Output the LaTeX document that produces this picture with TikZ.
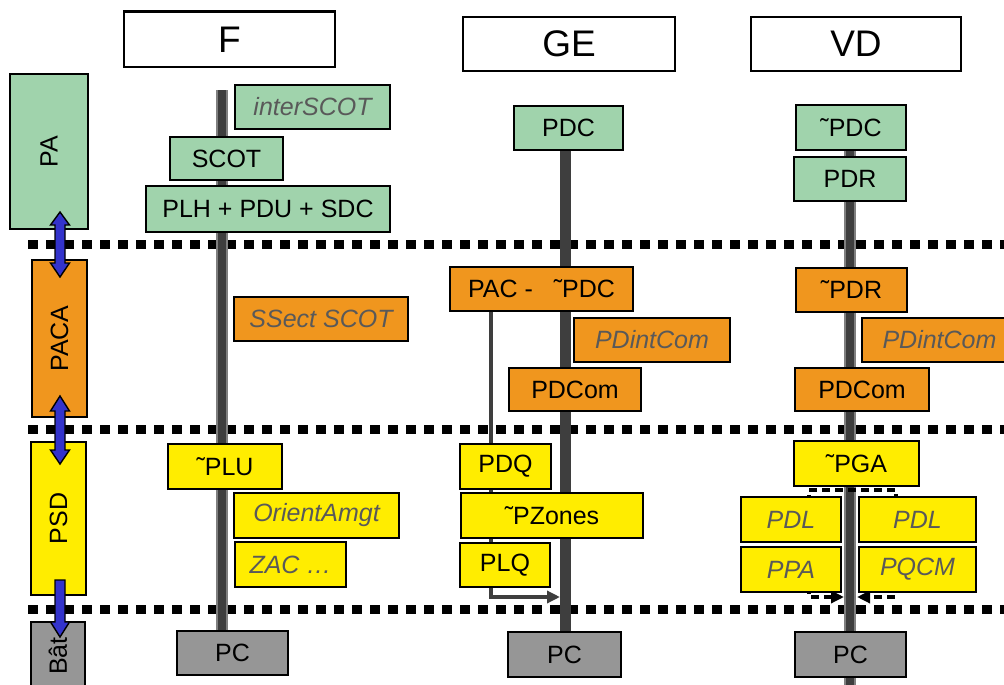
\documentclass[tikz,border=0pt]{standalone}
\usepackage{fontspec}
\setmainfont{Liberation Sans}
\usetikzlibrary{arrows.meta}
\definecolor{cgreen}{RGB}{160,211,172}
\definecolor{corange}{RGB}{240,150,30}
\definecolor{cyellow}{RGB}{255,237,0}
\definecolor{cgray}{RGB}{150,150,150}
\definecolor{cblue}{RGB}{51,51,204}
\definecolor{ctxt}{RGB}{89,89,89}
\definecolor{cstem}{RGB}{62,62,62}
\definecolor{cstemedge}{RGB}{128,128,128}
\pgfdeclarelayer{back}
\pgfdeclarelayer{mid}
\pgfsetlayers{back,mid,main}
\newcommand\mybox[7]{%
  \pgfmathsetmacro\myw{#5-#3}\pgfmathsetmacro\myh{#6-#4}%
  \pgfmathsetmacro\myx{(#3+#5)/2}\pgfmathsetmacro\myy{(#4+#6)/2}%
  \node[#1, minimum width=\myw pt, minimum height=\myh pt] (#2) at (\myx,\myy) {#7};}
\tikzset{
  box/.style={draw=black, line width=1.5pt, inner sep=0pt, font=\fontsize{25}{30}\selectfont, text=black},
  gbox/.style={box, fill=cgreen},
  obox/.style={box, fill=corange},
  ybox/.style={box, fill=cyellow},
  pbox/.style={box, fill=cgray},
  ital/.style={font=\fontsize{25}{30}\selectfont\itshape, text=ctxt},
  hbox/.style={draw=black, line width=1.4pt, fill=white, inner sep=0pt, font=\fontsize{37}{42}\selectfont},
  layerbox/.style={draw=black, line width=1.5pt, inner sep=0pt, font=\fontsize{25}{30}\selectfont, rotate=90},
  sepline/.style={line width=9pt, dash pattern=on 10pt off 8pt, black},
  stemout/.style={line width=12pt, draw=cstemedge},
  stemin/.style={line width=8pt, draw=cstem},
  stemsolid/.style={line width=11pt, draw=cstem},
  barrow/.style={draw=black, line width=1.4pt, fill=cblue},
  gearrow/.style={draw=cstem, line width=3.5pt, -{Triangle[length=13pt,width=12pt]}},
  vdarrow/.style={draw=black, line width=3.5pt, dash pattern=on 8pt off 5pt, {Triangle[length=13pt,width=12pt]}-{Triangle[length=13pt,width=12pt]}},
}
\begin{document}
\begin{tikzpicture}[x=1pt,y=-1pt]
\useasboundingbox (0,0) rectangle (1004,685);
\clip (0,0) rectangle (1004,685);

% headers
\mybox{hbox}{hF}{124}{12}{335}{67}{F}
\mybox{hbox}{hGE}{463}{17}{675}{71}{GE}
\mybox{hbox}{hVD}{751}{17}{961}{71}{VD}
\draw[line width=2.8pt] (hF.north west) -- (hF.north east);

% layer boxes
\node[layerbox, fill=cgreen, minimum width=155pt, minimum height=78pt] (pa) at (49,151.5) {PA};
\node[layerbox, fill=corange, minimum width=157pt, minimum height=55pt] (paca) at (59.5,338.5) {PACA};
\node[layerbox, fill=cyellow, minimum width=153pt, minimum height=55pt] (psd) at (58.5,518.5) {PSD};
\node[layerbox, fill=cgray, minimum width=68pt, minimum height=54pt] (bat) at (58,656) {Bât};

% F column
\mybox{gbox,ital}{interscot}{235}{85}{390}{129}{interSCOT}
\mybox{gbox}{scot}{170}{137}{283}{180}{SCOT}
\mybox{gbox}{plh}{146}{186}{390}{232}{PLH + PDU + SDC}
\mybox{obox,ital}{ssect}{234}{297}{408}{341}{SSect SCOT}
\mybox{ybox}{plu}{168}{444}{282}{489}{˜PLU}
\mybox{ybox,ital}{orient}{234}{493}{399}{538}{OrientAmgt}
\mybox{ybox,ital}{zac}{235}{542}{346}{587}{ZAC …}
\mybox{pbox}{fpc}{177}{631}{288}{675}{PC}

% GE column
\mybox{gbox}{gpdc}{514}{106}{623}{150}{PDC}
\mybox{obox}{pac}{450}{267}{633}{311}{PAC -\hspace{21pt}˜PDC}
\mybox{obox,ital}{gint}{574}{318}{730}{362}{PDintCom}
\mybox{obox}{gcom}{509}{368}{641}{411}{PDCom}
\mybox{ybox}{pdq}{460}{444}{551}{489}{PDQ}
\mybox{ybox}{pzones}{461}{493}{643}{538}{˜PZones}
\mybox{ybox}{plq}{460}{543}{550}{587}{PLQ}
\mybox{pbox}{gpc}{508}{632}{621}{677}{PC}

% VD column
\mybox{gbox}{vpdc}{796}{105}{906}{150}{˜PDC}
\mybox{gbox}{vpdr}{794}{157}{906}{201}{PDR}
\mybox{obox}{vtpdr}{796}{268}{907}{312}{˜PDR}
\mybox{obox,ital}{vint}{862}{318}{1017}{362}{PDintCom}
\mybox{obox}{vcom}{795}{368}{929}{411}{PDCom}
\mybox{ybox}{pga}{794}{441}{919}{486}{˜PGA}
\mybox{ybox,ital}{pdla}{741}{497}{841}{542}{PDL}
\mybox{ybox,ital}{pdlb}{859}{497}{976}{542}{PDL}
\mybox{ybox,ital}{ppa}{741}{547}{841}{592}{PPA}
\mybox{ybox,ital}{pqcm}{859}{547}{976}{592}{PQCM}
\mybox{pbox}{vpc}{795}{632}{906}{677}{PC}

% separators
\coordinate (s1a) at (28,244); \coordinate (s1b) at (1004,244);
\coordinate (s2a) at (28,429); \coordinate (s2b) at (1004,429);
\coordinate (s3a) at (28,609); \coordinate (s3b) at (1004,609);
\begin{pgfonlayer}{back}
  \draw[sepline] (s1a) -- (s1b);
  \draw[sepline] (s2a) -- (s2b);
  \draw[sepline] (s3a) -- (s3b);
\end{pgfonlayer}

% stems and connectors
\coordinate (ftop) at (222,90);
\coordinate (gtop) at (565,128);
\coordinate (vtop) at (850,128);
\coordinate (vbot) at (850,690);
\coordinate (gcorner) at (491,597);
\coordinate (gtip) at (560,597);
\coordinate (dl1) at (844,597);
\coordinate (dl2) at (809,597);
\coordinate (dl3) at (809,490);
\coordinate (dr3) at (896,490);
\coordinate (dr2) at (896,597);
\coordinate (dr1) at (857,597);
\begin{pgfonlayer}{mid}
  \draw[stemout] (ftop) -- (ftop |- fpc.north);
  \draw[stemin] (ftop) -- (ftop |- fpc.north);
  \draw[stemsolid] (gtop) -- (gtop |- gpc.north);
  \draw[stemout] (vtop) -- (vbot);
  \draw[stemin] (vtop) -- (vbot);
  \draw[gearrow] (pac.south -| gcorner) -- (gcorner) -- (gtip);
  \draw[vdarrow] (dl1) -- (dl2) -- (dl3) -- (dr3) -- (dr2) -- (dr1);
\end{pgfonlayer}

% blue arrows between layers
\coordinate (a1) at (60,212);
\coordinate (a2) at (60,396);
\coordinate (a3) at (60,580);
\draw[barrow] (a1) -- ++(9.5,13) -- ++(-4.5,0) -- ++(0,38) -- ++(4.5,0) -- ++(-9.5,14)
  -- ++(-9.5,-14) -- ++(4.5,0) -- ++(0,-38) -- ++(-4.5,0) -- cycle;
\draw[barrow] (a2) -- ++(9.5,15) -- ++(-4.5,0) -- ++(0,39) -- ++(4.5,0) -- ++(-9.5,14)
  -- ++(-9.5,-14) -- ++(4.5,0) -- ++(0,-39) -- ++(-4.5,0) -- cycle;
\draw[barrow] (a3) -- ++(5,0) -- ++(0,42) -- ++(4.5,0) -- ++(-9.5,15)
  -- ++(-9.5,-15) -- ++(4.5,0) -- ++(0,-42) -- cycle;
\end{tikzpicture}
\end{document}
